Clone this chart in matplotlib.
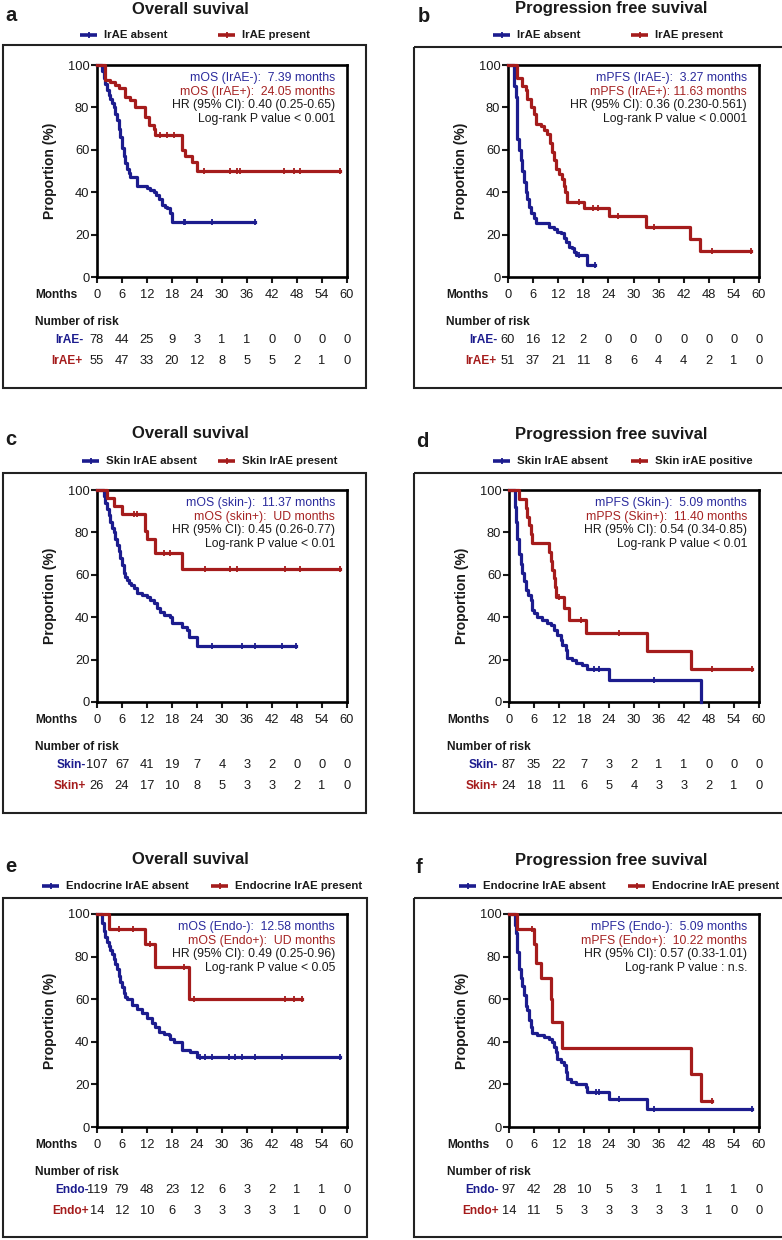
import numpy as np
import matplotlib
matplotlib.use("Agg")
import matplotlib.pyplot as plt
from matplotlib.patches import Rectangle

plt.rcParams["font.family"] = ["Liberation Sans", "DejaVu Sans"]

BLUE = "#1c1c8e"
RED = "#a51c1c"
TXT_BLUE = "#2a2a9c"
TXT_RED = "#a52222"
INK = "#1a1a1a"

MONTH_TICKS = list(range(0, 61, 6))

# ---------------- KM step data ----------------
# a: overall survival, IrAE absent / present
a_neg_t = [0, 1.2, 1.6, 2.0, 2.4, 2.8, 3.2, 3.6, 4.0, 4.4, 4.8, 5.2, 5.6, 6.0, 6.4, 6.8, 7.2, 7.6, 8.0, 9.6,
           12.0, 12.8, 13.6, 14.2, 14.8, 15.6, 16.2, 16.8, 17.6, 18.0, 38.0]
a_neg_s = [100, 97, 94, 91, 88, 86, 84, 82, 80, 77, 74, 70, 66, 61, 57, 54, 51, 49, 47, 43,
           42, 41, 40, 38.5, 37, 34, 33, 32.4, 30, 26, 26]
a_neg_cens = [20.8, 21.2, 27.6, 38.0]
a_pos_t = [0, 2.0, 3.2, 4.4, 5.2, 6.8, 8.0, 9.2, 11.6, 12.4, 13.6, 14.0, 20.4, 21.2, 22.8, 24.0, 58.4]
a_pos_s = [100, 93, 92, 90.5, 89, 85, 83.5, 80, 75.5, 71.7, 70, 67, 60, 57, 54.4, 50, 50]
a_pos_cens = [15.2, 16.8, 18.4, 25.6, 32.0, 33.6, 34.4, 44.8, 47.2, 48.8, 58.4]

# b: PFS, IrAE absent / present
b_neg_t = [0, 1.4, 1.8, 2.1, 2.2, 2.6, 3.0, 3.4, 3.8, 4.2, 4.6, 5.0, 5.4, 6.1, 6.6, 9.8, 11.0, 11.8, 12.6, 13.4,
           13.8, 14.6, 15.4, 15.8, 16.2, 19.0, 20.8]
b_neg_s = [100, 90, 85, 80, 65, 60, 55, 50, 45, 40, 37, 33, 30, 27.7, 25.6, 23.7, 22.5, 21.4, 20.6, 18.2,
           16.7, 14.3, 13.5, 12, 10.4, 5.6, 5.6]
b_neg_cens = [17.0, 20.8]
b_pos_t = [0, 2.2, 3.4, 4.2, 4.6, 5.4, 6.1, 6.6, 7.8, 8.6, 9.4, 10.1, 10.6, 11.0, 11.4, 12.2, 12.8, 13.3, 13.6, 14.2,
           18.2, 24.2, 33.0, 43.4, 45.8, 58.1]
b_pos_s = [100, 94, 90, 88, 84, 80, 77, 72, 71, 69.5, 67.5, 63, 59, 55, 51, 48.5, 46, 43, 40, 35.5,
           32.4, 28.8, 23.7, 17.7, 12.2, 12.2]
b_pos_cens = [17.0, 20.4, 21.6, 26.4, 35.0, 48.8, 58.1]

# c: overall survival, skin IrAE absent / present
c_neg_t = [0, 1.6, 2.0, 2.4, 2.8, 3.2, 3.6, 4.0, 4.4, 4.8, 5.2, 5.6, 6.0, 6.4, 6.8, 7.2, 7.6, 8.2, 8.8, 9.6,
           10.8, 12.0, 12.8, 13.6, 14.4, 15.2, 16.0, 17.6, 18.0, 20.4, 21.6, 22.0, 24.0, 47.8]
c_neg_s = [100, 97, 94, 91, 88, 85, 82, 80, 77, 74, 71, 68, 64.5, 61, 59, 57.5, 56, 55, 53.6, 51.3,
           50.5, 49.7, 48.1, 46.5, 44.2, 42.6, 41, 40.2, 37.1, 35.5, 34, 30.8, 26.4, 26.4]
c_neg_cens = [27.6, 34.8, 38.0, 44.4, 47.8]
c_pos_t = [0, 2.4, 4.0, 6.0, 11.6, 12.0, 14.0, 20.4, 58.4]
c_pos_s = [100, 96.2, 92.3, 88.5, 80.8, 76.9, 70.5, 62.7, 62.7]
c_pos_cens = [8.8, 9.6, 16.0, 17.6, 26.0, 32.0, 33.6, 45.2, 48.8, 58.4]

# d: PFS, skin IrAE absent / positive
d_neg_t = [0, 1.4, 1.6, 2.0, 2.4, 2.8, 3.2, 3.6, 4.0, 4.6, 5.2, 5.6, 6.0, 6.8, 8.0, 9.2, 10.0, 10.8, 11.6, 12.4,
           12.8, 13.6, 14.0, 15.2, 16.0, 17.6, 18.8, 24.0, 46.0]
d_neg_s = [100, 92, 85, 77, 70, 65, 60.7, 57, 53, 50.5, 48.1, 43.4, 41.8, 40.2, 38.7, 37.1, 36.3, 34, 31.6, 29.3,
           26.9, 24.5, 20.6, 19.8, 18.2, 17.4, 15.8, 10.4, 0]
d_neg_cens = [20.4, 21.6, 34.8]
d_pos_t = [0, 2.4, 4.0, 4.4, 4.8, 5.2, 5.6, 9.6, 10.0, 10.4, 10.8, 11.0, 11.2, 13.2, 14.4, 18.4, 33.2, 43.6, 58.4]
d_pos_s = [100, 95.8, 91.7, 87.5, 83.3, 79.2, 75, 70.8, 66.7, 62.5, 58.3, 54.2, 49.5, 44.2, 38.7, 32.4, 24.2, 15.8, 15.8]
d_pos_cens = [12.0, 17.2, 26.4, 48.8, 58.4]

# e: overall survival, endocrine IrAE absent / present
e_neg_t = [0, 1.2, 1.6, 2.0, 2.4, 2.8, 3.2, 3.6, 4.0, 4.4, 4.8, 5.2, 5.6, 6.0, 6.4, 6.8, 7.2, 8.4, 9.6, 10.8,
           12.0, 13.2, 14.0, 14.8, 16.0, 17.2, 17.6, 18.4, 20.4, 22.4, 24.0, 58.4]
e_neg_s = [100, 96, 92, 89, 87, 85, 83, 81, 79, 76.5, 74, 71, 68, 65.5, 63, 61, 60, 57.2, 55.6, 53.3,
           51, 48.6, 47, 44.6, 43.8, 43, 41.5, 39.9, 36, 35.2, 32.8, 32.8]
e_neg_cens = [24.8, 26.0, 27.6, 31.6, 33.2, 34.8, 38.0, 44.4, 58.4]
e_pos_t = [0, 2.8, 11.4, 13.8, 22.0, 49.2]
e_pos_s = [100, 92.9, 85.7, 75.0, 60.0, 60.0]
e_pos_cens = [5.2, 8.6, 12.8, 20.8, 23.2, 45.2, 47.2, 49.2]

# f: PFS, endocrine IrAE absent / present
f_neg_t = [0, 1.4, 1.6, 2.0, 2.4, 2.8, 3.2, 3.6, 4.0, 4.4, 4.8, 5.2, 5.6, 6.8, 8.4, 9.6, 10.4, 10.8, 11.2, 11.6,
           12.4, 13.2, 13.6, 14.0, 14.8, 16.0, 18.4, 18.8, 24.0, 33.2, 58.4]
f_neg_s = [100, 95, 91, 82, 74, 70, 66, 62, 57, 54.9, 50.2, 47, 43.9, 43, 42.3, 41.5, 39.9, 37.6, 35.2, 32.1,
           30.5, 29, 25.8, 22.7, 21.1, 20.4, 18.8, 16.4, 13.3, 8.6, 8.6]
f_neg_cens = [20.8, 21.6, 26.4, 34.8, 58.4]
f_pos_t = [0, 2.0, 6.0, 6.4, 7.6, 10.0, 10.2, 12.8, 43.6, 46.0, 48.8]
f_pos_s = [100, 92.9, 85.7, 77.1, 70, 60, 49.5, 37.1, 25, 12.4, 12.4]
f_pos_cens = [5.6, 48.8]

# ---------------- numbers at risk ----------------
a_risk = ([78, 44, 25, 9, 3, 1, 1, 0, 0, 0, 0], [55, 47, 33, 20, 12, 8, 5, 5, 2, 1, 0])
b_risk = ([60, 16, 12, 2, 0, 0, 0, 0, 0, 0, 0], [51, 37, 21, 11, 8, 6, 4, 4, 2, 1, 0])
c_risk = ([107, 67, 41, 19, 7, 4, 3, 2, 0, 0, 0], [26, 24, 17, 10, 8, 5, 3, 3, 2, 1, 0])
d_risk = ([87, 35, 22, 7, 3, 2, 1, 1, 0, 0, 0], [24, 18, 11, 6, 5, 4, 3, 3, 2, 1, 0])
e_risk = ([119, 79, 48, 23, 12, 6, 3, 2, 1, 1, 0], [14, 12, 10, 6, 3, 3, 3, 3, 1, 0, 0])
f_risk = ([97, 42, 28, 10, 5, 3, 1, 1, 1, 1, 0], [14, 11, 5, 3, 3, 3, 3, 3, 1, 0, 0])

# ---------------- text ----------------
titles = ["Overall suvival", "Progression free suvival"] * 3
letters = ["a", "b", "c", "d", "e", "f"]
legend_labels = [("IrAE absent", "IrAE present"), ("IrAE absent", "IrAE present"),
                 ("Skin IrAE absent", "Skin IrAE present"), ("Skin IrAE absent", "Skin irAE positive"),
                 ("Endocrine IrAE absent", "Endocrine IrAE present"),
                 ("Endocrine IrAE absent", "Endocrine IrAE present")]
risk_labels = [("IrAE-", "IrAE+"), ("IrAE-", "IrAE+"), ("Skin-", "Skin+"), ("Skin-", "Skin+"),
               ("Endo-", "Endo+"), ("Endo-", "Endo+")]
stats = [
    ("mOS (IrAE-):  7.39 months", "mOS (IrAE+):  24.05 months", "HR (95% CI): 0.40 (0.25-0.65)",
     "Log-rank P value < 0.001"),
    ("mPFS (IrAE-):  3.27 months", "mPFS (IrAE+): 11.63 months", "HR (95% CI): 0.36 (0.230-0.561)",
     "Log-rank P value < 0.0001"),
    ("mOS (skin-):  11.37 months", "mOS (skin+):  UD months", "HR (95% CI): 0.45 (0.26-0.77)",
     "Log-rank P value < 0.01"),
    ("mPFS (Skin-):  5.09 months", "mPPS (Skin+):  11.40 months", "HR (95% CI): 0.54 (0.34-0.85)",
     "Log-rank P value < 0.01"),
    ("mOS (Endo-):  12.58 months", "mOS (Endo+):  UD months", "HR (95% CI): 0.49 (0.25-0.96)",
     "Log-rank P value < 0.05"),
    ("mPFS (Endo-):  5.09 months", "mPFS (Endo+):  10.22 months", "HR (95% CI): 0.57 (0.33-1.01)",
     "Log-rank P value : n.s."),
]
curves = [
    ((a_neg_t, a_neg_s, a_neg_cens), (a_pos_t, a_pos_s, a_pos_cens)),
    ((b_neg_t, b_neg_s, b_neg_cens), (b_pos_t, b_pos_s, b_pos_cens)),
    ((c_neg_t, c_neg_s, c_neg_cens), (c_pos_t, c_pos_s, c_pos_cens)),
    ((d_neg_t, d_neg_s, d_neg_cens), (d_pos_t, d_pos_s, d_pos_cens)),
    ((e_neg_t, e_neg_s, e_neg_cens), (e_pos_t, e_pos_s, e_pos_cens)),
    ((f_neg_t, f_neg_s, f_neg_cens), (f_pos_t, f_pos_s, f_pos_cens)),
]
risks = [a_risk, b_risk, c_risk, d_risk, e_risk, f_risk]

# ---------------- layout (pixels) ----------------
W, H = 782, 1240
# plot area: left, top, right, bottom
axes_px = [(97, 65, 347, 277), (508, 65, 759, 277),
           (97, 490, 347, 702), (509, 490, 759, 702),
           (97, 914, 347, 1127), (509, 914, 759, 1127)]
boxes_px = [(3, 45, 366, 388), (414, 47, 792, 388),
            (3, 473, 366, 813), (414, 473, 792, 813),
            (3, 898, 367, 1237), (414, 898, 792, 1237)]
title_px = [(190, 9), (611, 9), (190, 434), (611, 434), (190, 860), (611, 860)]
letter_px = [(5, 21), (418, 22), (5, 445), (416, 447), (5, 872), (416, 873)]
legend_y = [35, 35, 461, 461, 886, 886]
legend_x = [(80, 218), (493, 631), (82, 218), (493, 631), (42, 211), (459, 628)]
risk_label_gap = [14, 11, 11, 11, 8, 10]


def km(ax, t, s, cens, color):
    t = np.asarray(t, float)
    s = np.asarray(s, float)
    ax.plot(t, s, drawstyle="steps-post", color=color, lw=2.3, clip_on=False, zorder=3)
    idx = np.searchsorted(t, cens, side="right") - 1
    ax.plot(cens, s[np.clip(idx, 0, len(s) - 1)], ls="none", marker="|", ms=5, mew=1.3,
            color=color, clip_on=False, zorder=3)


fig = plt.figure(figsize=(W / 100, H / 100), dpi=100)
ov = fig.add_axes([0, 0, 1, 1])
ov.set_xlim(0, W)
ov.set_ylim(H, 0)
ov.axis("off")

for i in range(6):
    x0, y0, x1, y1 = axes_px[i]
    w, h = x1 - x0, y1 - y0
    ax = fig.add_axes([x0 / W, 1 - y1 / H, w / W, h / H])
    ax.set_facecolor("none")

    (nt, ns, nc), (pt, ps, pc) = curves[i]
    km(ax, nt, ns, nc, BLUE)
    km(ax, pt, ps, pc, RED)

    ax.set_xlim(0, 60)
    ax.set_ylim(0, 100)
    ax.set_xticks(MONTH_TICKS)
    ax.set_yticks(range(0, 101, 20))
    for sp in ax.spines.values():
        sp.set_linewidth(1.9)
    ax.tick_params(direction="out", length=4, width=1.5, labelsize=9.3, colors=INK)
    ax.tick_params(axis="x", pad=4.5)
    ax.tick_params(axis="y", pad=1.5)
    ax.set_ylabel("Proportion (%)", fontweight="bold", fontsize=10, color=INK)
    ax.yaxis.set_label_coords(-40 / w, 0.5)

    # stats block
    cols = [TXT_BLUE, TXT_RED, INK, INK]
    for k, (line, col) in enumerate(zip(stats[i], cols)):
        ax.text(1 - 12 / w, 1 - (13 + 13.6 * k) / h, line, transform=ax.transAxes,
                ha="right", va="center", fontsize=8.8, color=col)

    # months label and risk table
    xt = ax.get_xaxis_transform()
    ax.text(-62 / w, -18 / h, "Months", transform=ax.transAxes, ha="left", va="center",
            fontsize=8.6, fontweight="bold", color=INK)
    ax.text(-62 / w, -45 / h, "Number of risk", transform=ax.transAxes, ha="left", va="center",
            fontsize=8.6, fontweight="bold", color=INK)
    for r, (lab, col, dy) in enumerate(zip(risk_labels[i], (BLUE, RED), (63, 84))):
        ax.text(-risk_label_gap[i] / w, -dy / h, lab, transform=ax.transAxes, ha="right",
                va="center", fontsize=8.6, fontweight="bold", color=col)
        for m, n in zip(MONTH_TICKS, risks[i][r]):
            ax.text(m, -dy / h, str(n), transform=xt, ha="center", va="center",
                    fontsize=9.3, color=INK)

    # frame, title, letter, legend
    bx0, by0, bx1, by1 = boxes_px[i]
    ov.add_patch(Rectangle((bx0, by0), bx1 - bx0, by1 - by0, fill=False, lw=1.5,
                           ec="#222222", clip_on=False))
    ov.text(*title_px[i], titles[i], ha="center", va="center", fontsize=12,
            fontweight="bold", color=INK)
    ov.text(*letter_px[i], letters[i], ha="left", va="baseline", fontsize=14.5,
            fontweight="bold", color=INK)
    ly = legend_y[i]
    for lx, col, lab in zip(legend_x[i], (BLUE, RED), legend_labels[i]):
        ov.plot([lx, lx + 17], [ly, ly], color=col, lw=2.6, solid_capstyle="butt")
        ov.plot([lx + 8.5], [ly], marker="|", ms=5, mew=1.3, color=col)
        ov.text(lx + 24, ly, lab, ha="left", va="center", fontsize=8.2,
                fontweight="bold", color=INK)

fig.savefig("out.png", dpi=100)
